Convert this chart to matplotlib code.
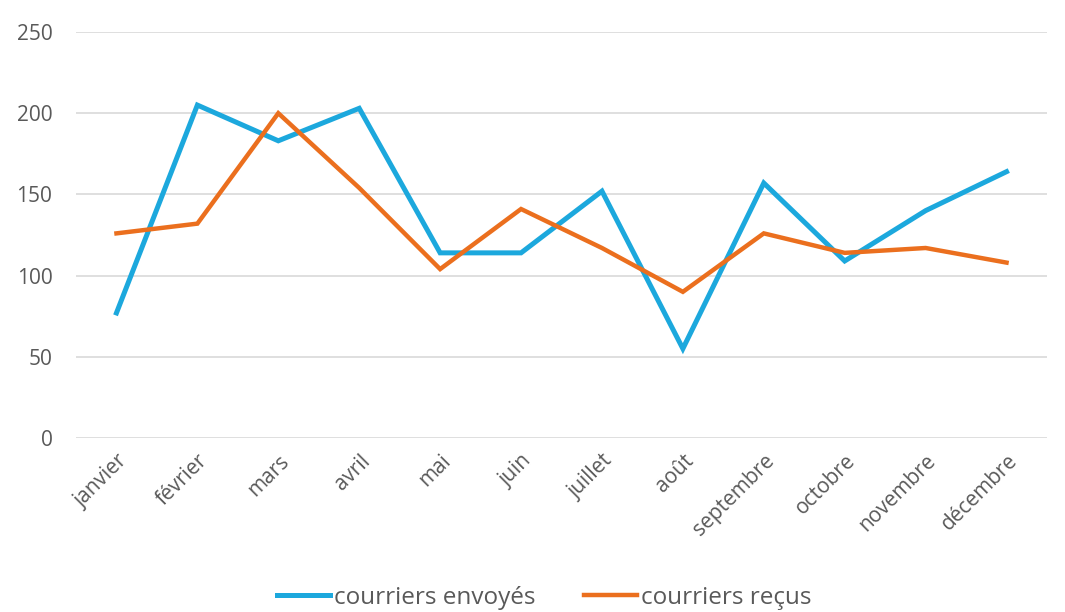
import matplotlib
matplotlib.use("Agg")
import matplotlib.pyplot as plt

months = ["janvier", "février", "mars", "avril", "mai", "juin", "juillet",
          "août", "septembre", "octobre", "novembre", "décembre"]
envoyes = [77, 205, 183, 203, 114, 114, 152, 55, 157, 109, 140, 164]
recus = [126, 132, 200, 154, 104, 141, 117, 90, 126, 114, 117, 108]
yticks = [0, 50, 100, 150, 200, 250]

plt.rcParams['font.family'] = ['Open Sans', 'DejaVu Sans']
txt = '#595959'

fig = plt.figure(figsize=(10.65, 6.12), dpi=100)
ax = fig.add_axes([76/1065, 1-438/612, (1047-76)/1065, (438-32)/612])
x = list(range(len(months)))
ax.plot(x, envoyes, color='#1CA8DD', lw=3.6, label='courriers envoyés', solid_joinstyle='miter', zorder=3)
ax.plot(x, recus, color='#EB6F1E', lw=3.2, label='courriers reçus', solid_joinstyle='miter', zorder=3)

ax.set_xlim(-0.5, len(months) - 0.5)
ax.set_ylim(0, 250)
ax.set_yticks(yticks)
ax.set_yticklabels([str(v) for v in yticks])
ax.set_xticks(x)
ax.set_xticklabels(months, rotation=45, ha='right', rotation_mode='anchor')
ax.tick_params(axis='both', length=0, labelcolor=txt, labelsize=15)
ax.tick_params(axis='y', pad=17)
ax.tick_params(axis='x', pad=9)
ax.grid(axis='y', color='#d9d9d9', lw=1.2)
ax.set_axisbelow(True)
for s in ax.spines.values():
    s.set_visible(False)

leg = fig.legend(loc='center', bbox_to_anchor=(544/1065, 1-598/612), ncol=2, frameon=False,
                 fontsize=17.5, handlelength=2.2, handletextpad=0.15, columnspacing=2.0)
for t in leg.get_texts():
    t.set_color(txt)

fig.savefig('out.png', dpi=100)
